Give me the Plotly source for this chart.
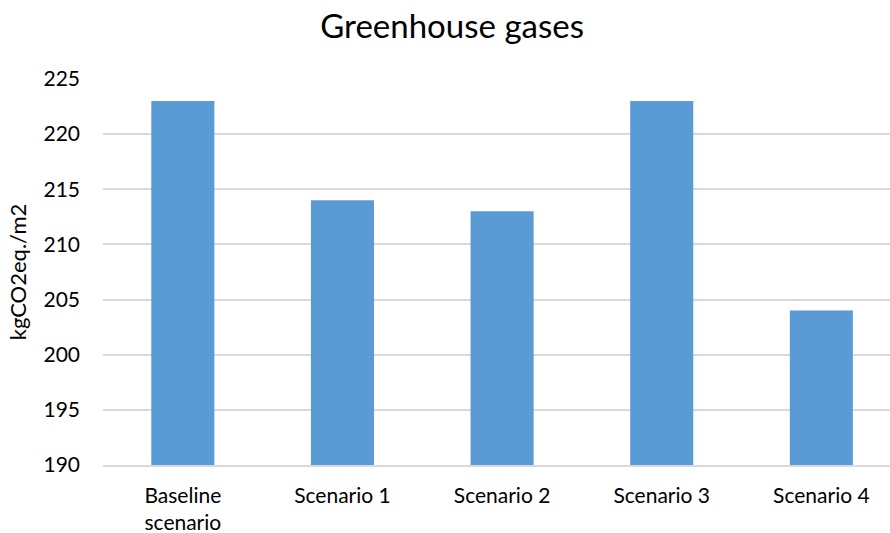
import plotly.graph_objects as go

# Greenhouse gas totals per scenario (kgCO2eq./m2)
categories = ["Baseline<br>scenario", "Scenario 1", "Scenario 2", "Scenario 3", "Scenario 4"]
values = [223, 214, 213, 223, 204]
y_ticks = [190, 195, 200, 205, 210, 215, 220, 225]

FONT = "Lato, 'Open Sans', sans-serif"

fig = go.Figure(
    go.Bar(
        x=list(range(len(categories))),
        y=values,
        marker=dict(color="#5B9BD5", line=dict(width=0)),
        hoverinfo="y",
    )
)

fig.update_layout(
    width=890,
    height=533,
    margin=dict(l=103, r=0, t=79, b=68),
    paper_bgcolor="white",
    plot_bgcolor="white",
    bargap=0.605,
    showlegend=False,
    font=dict(family=FONT, size=21, color="#000000"),
    title=dict(
        text="Greenhouse gases",
        x=0.508,
        xanchor="center",
        y=0.95,
        yanchor="middle",
        font=dict(family=FONT, size=33, color="#000000"),
    ),
)

fig.update_xaxes(
    tickmode="array",
    tickvals=list(range(len(categories))),
    ticktext=categories,
    range=[-0.5, 4.43],
    showgrid=False,
    zeroline=False,
    showline=True,
    linecolor="#D9D9D9",
    linewidth=1.5,
    ticks="",
    ticklabelstandoff=11,
    tickfont=dict(size=21),
    automargin=False,
)

fig.update_yaxes(
    range=[190, 225],
    tickmode="array",
    tickvals=y_ticks,
    showgrid=True,
    gridcolor="#D9D9D9",
    gridwidth=1.5,
    zeroline=False,
    showline=False,
    ticks="",
    ticklabelstandoff=22,
    tickfont=dict(size=21),
    title=dict(text="kgCO2eq./m2", font=dict(size=22), standoff=10),
)

fig.write_html("out.html")
